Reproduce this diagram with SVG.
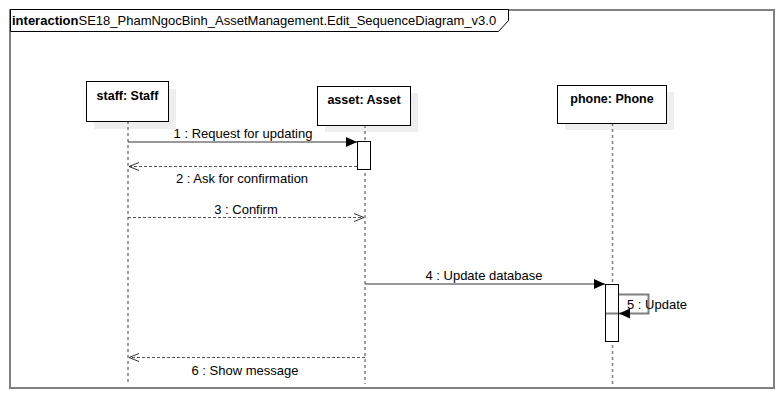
<svg xmlns="http://www.w3.org/2000/svg" width="784" height="400" viewBox="0 0 784 400">
<defs>
<style>
text{font-family:"Liberation Sans",Arial,sans-serif;font-size:13px;fill:#000}
.title{font-size:13px}
.hd{font-weight:bold;font-size:12.5px}
.frame{fill:none;stroke:#808080;stroke-width:2}
.tab{fill:#fff;stroke:#000;stroke-width:1}
.shadow{fill:#eeeeee}
.box{fill:#fff;stroke:#000;stroke-width:1}
.life{stroke:#808080;stroke-width:1.5;stroke-dasharray:3 3;fill:none}
.act{fill:#fff;stroke:#000;stroke-width:1}
.sync{stroke:#333;stroke-width:1;fill:none}
.ret{stroke:#555;stroke-width:1;stroke-dasharray:3 2;fill:none}
.lbl{text-anchor:middle}
</style>
<marker id="filled" markerWidth="12" markerHeight="10" refX="11" refY="5" orient="auto" markerUnits="userSpaceOnUse">
<path d="M0,0 L11,5 L0,10 Z" fill="#000"/>
</marker>
<marker id="open" markerWidth="12" markerHeight="10" refX="10" refY="5" orient="auto" markerUnits="userSpaceOnUse">
<path d="M0,1 L10,5 L0,9" fill="none" stroke="#333" stroke-width="1"/>
</marker>
</defs>
<rect width="784" height="400" fill="#fff"/>
<g id="frame">
<rect class="frame" x="10" y="10" width="764" height="378"/>
<path class="tab" d="M10.5,9.5 H508.5 V20.5 L498.5,31.5 H10.5 Z"/>
<text class="title" x="12" y="25"><tspan font-weight="bold">interaction</tspan>SE18_PhamNgocBinh_AssetManagement.Edit_SequenceDiagram_v3.0</text>
</g>
<g id="staff">
<rect class="shadow" x="94" y="89" width="82" height="40"/>
<line class="life" x1="128" y1="121" x2="128" y2="384"/>
<rect class="box" x="86.5" y="81.5" width="82" height="40"/>
<text class="hd lbl" x="127.5" y="100">staff: Staff</text>
</g>
<g id="asset">
<rect class="shadow" x="325" y="93" width="93" height="39"/>
<line class="life" x1="365" y1="125" x2="365" y2="384"/>
<rect class="box" x="317.5" y="86.5" width="93" height="39"/>
<text class="hd lbl" x="364" y="104">asset: Asset</text>
<rect class="act" x="357.5" y="141.5" width="13" height="28"/>
</g>
<g id="phone">
<rect class="shadow" x="565" y="92" width="109" height="38"/>
<line class="life" x1="612.5" y1="123" x2="612.5" y2="384"/>
<rect class="box" x="557.5" y="85.5" width="109" height="38"/>
<text class="hd lbl" x="612" y="103">phone: Phone</text>
<rect class="act" x="605.5" y="284.5" width="13" height="57"/>
<line x1="606" y1="313.5" x2="618" y2="313.5" stroke="#808080" stroke-width="2"/>
</g>
<g id="connectors">
<line class="sync" x1="128" y1="142" x2="357" y2="142" marker-end="url(#filled)"/>
<text class="lbl" x="243" y="138">1 : Request for updating</text>
<line class="ret" x1="357" y1="166.5" x2="129" y2="166.5" marker-end="url(#open)"/>
<text class="lbl" x="242" y="183">2 : Ask for confirmation</text>
<line class="ret" x1="128" y1="217.5" x2="364" y2="217.5" marker-end="url(#open)"/>
<text class="lbl" x="246" y="214">3 : Confirm</text>
<line class="sync" x1="365" y1="284" x2="605" y2="284" marker-end="url(#filled)"/>
<text class="lbl" x="484" y="280">4 : Update database</text>
<path d="M619,294.5 H648.5 V313.5 H619" fill="none" stroke="#808080" stroke-width="2" marker-end="url(#filled)"/>
<text x="627" y="309">5 : Update</text>
<line class="ret" x1="365" y1="357.5" x2="129" y2="357.5" marker-end="url(#open)"/>
<text class="lbl" x="245" y="375">6 : Show message</text>
</g>
</svg>
